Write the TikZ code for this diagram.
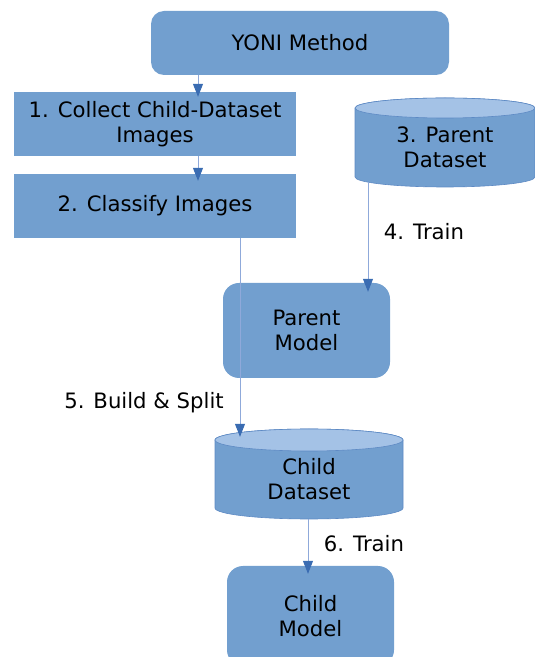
\documentclass[tikz,border=0pt]{standalone}
\usepackage{fontspec}
\setmainfont{DejaVu Sans}
\usetikzlibrary{arrows.meta}
\definecolor{boxfill}{HTML}{729FCF}
\definecolor{cyltop}{HTML}{A4C2E6}
\definecolor{cylline}{HTML}{5E8AC4}
\definecolor{linecol}{HTML}{8FA9DA}
\definecolor{headcol}{HTML}{3A6CB2}
\tikzset{
  every node/.style={font=\fontsize{21.2}{25}\selectfont, align=center, inner sep=0pt},
  rbox/.style={fill=boxfill, rounded corners=13pt},
  sbox/.style={fill=boxfill},
  conn/.style={draw=linecol, line width=0.9pt, -{Triangle[length=13pt,width=10pt,color=headcol]}},
  lbl/.style={}
}
\begin{document}
\begin{tikzpicture}[x=1pt,y=1pt]
\useasboundingbox (0,0) rectangle (535,657);
% boxes
\node[rbox, minimum width=298, minimum height=64] (yoni) at (300,614) {YONI Method};
\node[sbox, minimum width=282, minimum height=64] (b1) at (155,533) {1. Collect Child-Dataset\\Images};
\node[sbox, minimum width=282, minimum height=64] (b2) at (155,451) {2. Classify Images};
% parent dataset cylinder
\fill[boxfill, draw=cylline, line width=0.6pt] (355,549) -- (355,480) arc[start angle=180,end angle=360,x radius=90,y radius=10] -- (535,549) arc[start angle=0,end angle=180,x radius=90,y radius=10] -- cycle;
\fill[cyltop, draw=cylline, line width=0.6pt] (445,549) ellipse[x radius=90,y radius=10];
\node[minimum width=180, minimum height=79] (pd) at (445,509.5) {3. Parent\\Dataset};
% parent model
\node[rbox, rounded corners=16pt, minimum width=167, minimum height=95] (pm) at (306.5,326.5) {Parent\\Model};
% child dataset cylinder
\fill[boxfill, draw=cylline, line width=0.6pt] (215,217) -- (215,149) arc[start angle=180,end angle=360,x radius=94,y radius=11] -- (403,217) arc[start angle=0,end angle=180,x radius=94,y radius=11] -- cycle;
\fill[cyltop, draw=cylline, line width=0.6pt] (309,217) ellipse[x radius=94,y radius=11];
\node[minimum width=188, minimum height=79] (cd) at (309,177.5) {Child\\Dataset};
% child model
\node[rbox, rounded corners=16pt, minimum width=167, minimum height=100] (cm) at (310.5,41) {Child\\Model};
% coordinates for connector columns
\coordinate (x1) at (198,0);
\coordinate (x4) at (368,0);
\coordinate (x5) at (240,0);
\coordinate (x6) at (308,0);
% connectors
\draw[conn, shorten >=-5pt] (yoni.south -| x1) -- (b1.north -| x1);
\draw[conn, shorten >=-7pt] (b1.south -| x1) -- (b2.north -| x1);
\draw[conn, shorten <=-5pt, shorten >=-9pt] (pd.south -| x4) -- (pm.north -| x4);
\draw[conn, shorten >=3pt] (b2.south -| x5) -- (cd.north -| x5);
\draw[conn, shorten >=-8pt] (cd.south -| x6) -- (cm.north -| x6);
% labels
\node[lbl] (l4) at (424,425) {4. Train};
\node[lbl] (l5) at (144,254) {5. Build \& Split};
\node[lbl] (l6) at (364,113) {6. Train};
\end{tikzpicture}
\end{document}
